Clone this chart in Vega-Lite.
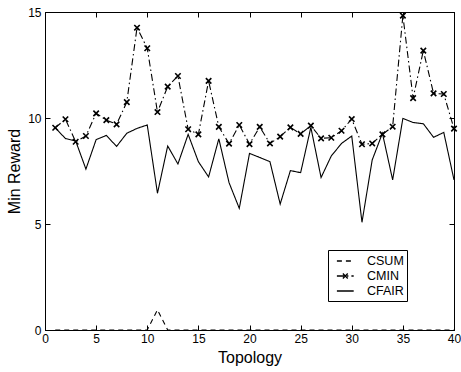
{
  "$schema": "https://vega.github.io/schema/vega-lite/v6.json",
  "autosize": "none",
  "width": 409,
  "height": 318,
  "padding": {"left": 45, "top": 12, "right": 7, "bottom": 42},
  "background": "white",
  "config": {
    "view": {"stroke": "black", "strokeWidth": 1},
    "font": "Liberation Sans",
    "axis": {
      "grid": false,
      "domainColor": "black",
      "tickColor": "black",
      "labelColor": "black",
      "titleColor": "black",
      "labelFont": "Liberation Sans",
      "titleFont": "Liberation Sans",
      "labelFontSize": 12,
      "titleFontSize": 16,
      "titleFontWeight": "normal",
      "tickSize": -5,
      "tickWidth": 1,
      "domainWidth": 1
    }
  },
  "data": {
    "values": [
      {"t": 1, "series": "CSUM", "v": 0}, {"t": 2, "series": "CSUM", "v": 0}, {"t": 3, "series": "CSUM", "v": 0}, {"t": 4, "series": "CSUM", "v": 0}, {"t": 5, "series": "CSUM", "v": 0}, {"t": 6, "series": "CSUM", "v": 0}, {"t": 7, "series": "CSUM", "v": 0}, {"t": 8, "series": "CSUM", "v": 0}, {"t": 9, "series": "CSUM", "v": 0}, {"t": 10, "series": "CSUM", "v": 0}, {"t": 11, "series": "CSUM", "v": 0.95}, {"t": 12, "series": "CSUM", "v": 0}, {"t": 13, "series": "CSUM", "v": 0}, {"t": 14, "series": "CSUM", "v": 0}, {"t": 15, "series": "CSUM", "v": 0}, {"t": 16, "series": "CSUM", "v": 0}, {"t": 17, "series": "CSUM", "v": 0}, {"t": 18, "series": "CSUM", "v": 0}, {"t": 19, "series": "CSUM", "v": 0}, {"t": 20, "series": "CSUM", "v": 0}, {"t": 21, "series": "CSUM", "v": 0}, {"t": 22, "series": "CSUM", "v": 0}, {"t": 23, "series": "CSUM", "v": 0}, {"t": 24, "series": "CSUM", "v": 0}, {"t": 25, "series": "CSUM", "v": 0}, {"t": 26, "series": "CSUM", "v": 0}, {"t": 27, "series": "CSUM", "v": 0}, {"t": 28, "series": "CSUM", "v": 0}, {"t": 29, "series": "CSUM", "v": 0}, {"t": 30, "series": "CSUM", "v": 0}, {"t": 31, "series": "CSUM", "v": 0}, {"t": 32, "series": "CSUM", "v": 0}, {"t": 33, "series": "CSUM", "v": 0}, {"t": 34, "series": "CSUM", "v": 0}, {"t": 35, "series": "CSUM", "v": 0}, {"t": 36, "series": "CSUM", "v": 0}, {"t": 37, "series": "CSUM", "v": 0}, {"t": 38, "series": "CSUM", "v": 0}, {"t": 39, "series": "CSUM", "v": 0}, {"t": 40, "series": "CSUM", "v": 0},
      {"t": 1, "series": "CMIN", "v": 9.54}, {"t": 2, "series": "CMIN", "v": 9.94}, {"t": 3, "series": "CMIN", "v": 8.88}, {"t": 4, "series": "CMIN", "v": 9.15}, {"t": 5, "series": "CMIN", "v": 10.22}, {"t": 6, "series": "CMIN", "v": 9.9}, {"t": 7, "series": "CMIN", "v": 9.7}, {"t": 8, "series": "CMIN", "v": 10.75}, {"t": 9, "series": "CMIN", "v": 14.26}, {"t": 10, "series": "CMIN", "v": 13.29}, {"t": 11, "series": "CMIN", "v": 10.28}, {"t": 12, "series": "CMIN", "v": 11.48}, {"t": 13, "series": "CMIN", "v": 11.98}, {"t": 14, "series": "CMIN", "v": 9.47}, {"t": 15, "series": "CMIN", "v": 9.23}, {"t": 16, "series": "CMIN", "v": 11.75}, {"t": 17, "series": "CMIN", "v": 9.58}, {"t": 18, "series": "CMIN", "v": 8.79}, {"t": 19, "series": "CMIN", "v": 9.67}, {"t": 20, "series": "CMIN", "v": 8.77}, {"t": 21, "series": "CMIN", "v": 9.58}, {"t": 22, "series": "CMIN", "v": 8.8}, {"t": 23, "series": "CMIN", "v": 9.12}, {"t": 24, "series": "CMIN", "v": 9.56}, {"t": 25, "series": "CMIN", "v": 9.25}, {"t": 26, "series": "CMIN", "v": 9.64}, {"t": 27, "series": "CMIN", "v": 9.04}, {"t": 28, "series": "CMIN", "v": 9.07}, {"t": 29, "series": "CMIN", "v": 9.4}, {"t": 30, "series": "CMIN", "v": 9.95}, {"t": 31, "series": "CMIN", "v": 8.76}, {"t": 32, "series": "CMIN", "v": 8.8}, {"t": 33, "series": "CMIN", "v": 9.23}, {"t": 34, "series": "CMIN", "v": 9.59}, {"t": 35, "series": "CMIN", "v": 14.83}, {"t": 36, "series": "CMIN", "v": 10.94}, {"t": 37, "series": "CMIN", "v": 13.18}, {"t": 38, "series": "CMIN", "v": 11.16}, {"t": 39, "series": "CMIN", "v": 11.13}, {"t": 40, "series": "CMIN", "v": 9.5},
      {"t": 1, "series": "CFAIR", "v": 9.54}, {"t": 2, "series": "CFAIR", "v": 9.03}, {"t": 3, "series": "CFAIR", "v": 8.92}, {"t": 4, "series": "CFAIR", "v": 7.59}, {"t": 5, "series": "CFAIR", "v": 8.98}, {"t": 6, "series": "CFAIR", "v": 9.18}, {"t": 7, "series": "CFAIR", "v": 8.66}, {"t": 8, "series": "CFAIR", "v": 9.28}, {"t": 9, "series": "CFAIR", "v": 9.51}, {"t": 10, "series": "CFAIR", "v": 9.67}, {"t": 11, "series": "CFAIR", "v": 6.45}, {"t": 12, "series": "CFAIR", "v": 8.68}, {"t": 13, "series": "CFAIR", "v": 7.83}, {"t": 14, "series": "CFAIR", "v": 9.23}, {"t": 15, "series": "CFAIR", "v": 7.94}, {"t": 16, "series": "CFAIR", "v": 7.22}, {"t": 17, "series": "CFAIR", "v": 9.02}, {"t": 18, "series": "CFAIR", "v": 6.95}, {"t": 19, "series": "CFAIR", "v": 5.74}, {"t": 20, "series": "CFAIR", "v": 8.33}, {"t": 21, "series": "CFAIR", "v": 8.14}, {"t": 22, "series": "CFAIR", "v": 7.94}, {"t": 23, "series": "CFAIR", "v": 5.94}, {"t": 24, "series": "CFAIR", "v": 7.52}, {"t": 25, "series": "CFAIR", "v": 7.42}, {"t": 26, "series": "CFAIR", "v": 9.56}, {"t": 27, "series": "CFAIR", "v": 7.19}, {"t": 28, "series": "CFAIR", "v": 8.21}, {"t": 29, "series": "CFAIR", "v": 8.8}, {"t": 30, "series": "CFAIR", "v": 9.15}, {"t": 31, "series": "CFAIR", "v": 5.08}, {"t": 32, "series": "CFAIR", "v": 8.02}, {"t": 33, "series": "CFAIR", "v": 9.28}, {"t": 34, "series": "CFAIR", "v": 7.08}, {"t": 35, "series": "CFAIR", "v": 9.98}, {"t": 36, "series": "CFAIR", "v": 9.79}, {"t": 37, "series": "CFAIR", "v": 9.73}, {"t": 38, "series": "CFAIR", "v": 9.09}, {"t": 39, "series": "CFAIR", "v": 9.32}, {"t": 40, "series": "CFAIR", "v": 7.08}
    ]
  },
  "layer": [
    {
      "mark": {"type": "line", "color": "black", "strokeWidth": 1.1, "clip": false},
      "encoding": {
        "x": {"field": "t", "type": "quantitative", "scale": {"domain": [0, 40], "nice": false, "zero": false},
          "axis": {"orient": "bottom", "values": [0, 5, 10, 15, 20, 25, 30, 35, 40], "title": "Topology", "labelPadding": 8, "titlePadding": 5, "labelFlush": false}},
        "y": {"field": "v", "type": "quantitative", "scale": {"domain": [0, 15], "nice": false},
          "axis": {"orient": "left", "values": [0, 5, 10, 15], "title": "Min Reward", "labelPadding": 9, "titlePadding": 5}},
        "strokeDash": {"field": "series", "type": "nominal",
          "scale": {"domain": ["CSUM", "CMIN", "CFAIR"], "range": [[5, 4], [7, 3, 1.5, 3], [1, 0]]},
          "legend": {
            "title": null, "orient": "none", "legendX": 283, "legendY": 238,
            "strokeColor": "black", "fillColor": "white", "padding": 3,
            "symbolType": "stroke", "symbolSize": 196, "symbolStrokeWidth": 1.3, "symbolStrokeColor": "black",
            "labelFontSize": 12.5, "labelColor": "black", "labelOffset": 20, "rowPadding": 0, "cornerRadius": 0,
            "encode": {"symbols": {"update": {"shape": {"signal": "datum.value === 'CMIN' ? 'M-0.3,0H2.1M0.55,-0.35L1.25,0.35M0.55,0.35L1.25,-0.35' : 'M-0.3,0H2.1'"}}}}
          }},
        "order": {"field": "t"}
      }
    },
    {
      "transform": [{"filter": "datum.series === 'CMIN'"}],
      "mark": {"type": "point", "shape": "M-1,-1L1,1M-1,1L1,-1", "filled": false, "color": "black", "strokeWidth": 1.6, "size": 30, "opacity": 1},
      "encoding": {
        "x": {"field": "t", "type": "quantitative",
          "axis": {"orient": "top", "values": [0, 5, 10, 15, 20, 25, 30, 35, 40], "labels": false, "title": null}},
        "y": {"field": "v", "type": "quantitative",
          "axis": {"orient": "right", "values": [0, 5, 10, 15], "labels": false, "title": null}}
      }
    }
  ],
  "resolve": {"axis": {"x": "independent", "y": "independent"}}
}
